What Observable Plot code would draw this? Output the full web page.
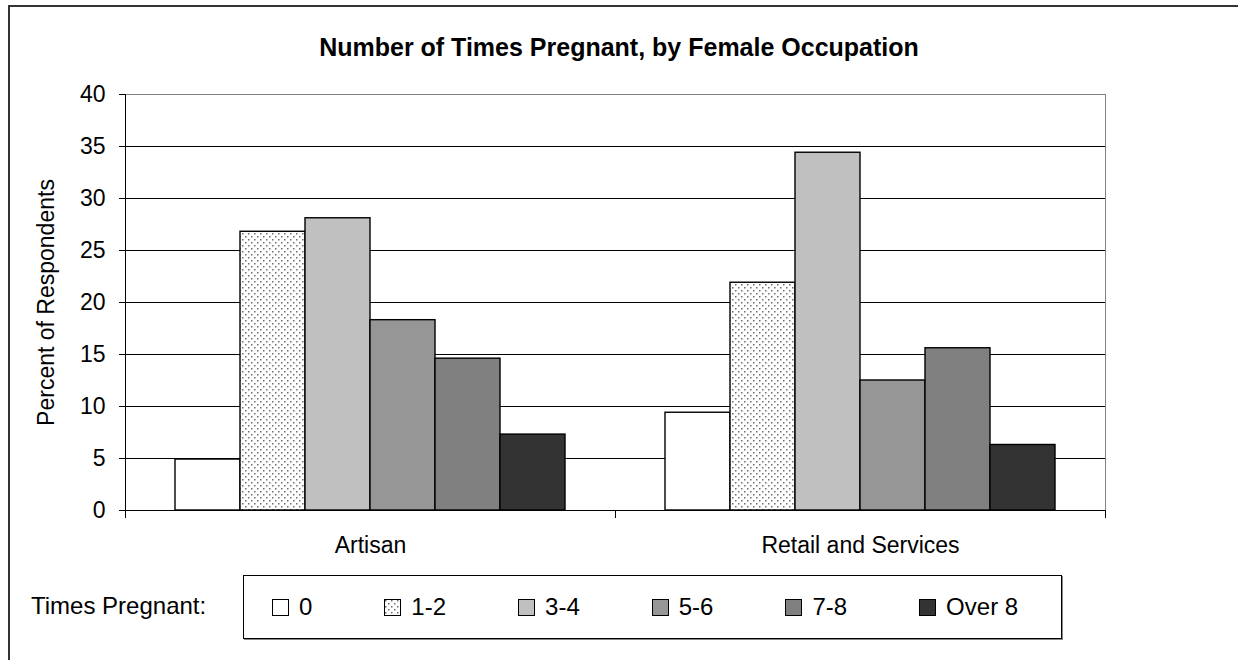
<!DOCTYPE html>
<html>
<head>
<meta charset="utf-8">
<script src="https://cdn.jsdelivr.net/npm/d3@7"></script>
<script src="https://cdn.jsdelivr.net/npm/@observablehq/plot@0.6"></script>
<style>
  body { margin: 0; background: #fff; font-family: "Liberation Sans", Arial, sans-serif; color: #000; }
  #page { position: relative; width: 1238px; height: 660px; overflow: hidden; background: #fff; }
  #border { position: absolute; left: 8px; top: 5px; width: 1300px; height: 700px; border-left: 2px solid #333; border-top: 2px solid #333; }
  #title { position: absolute; left: 0; top: 32px; width: 1238px; text-align: center; font-weight: bold; font-size: 25px; line-height: 30px; }
  #chart { position: absolute; left: 0; top: 70px; }
  #legendLabel { position: absolute; left: 31px; top: 592px; font-size: 24px; line-height: 28px; }
  #legend { position: absolute; left: 243px; top: 575px; width: 819px; height: 64px; box-sizing: border-box; border: 1px solid #000; box-shadow: 1px 1px 0 #888; display: flex; align-items: center; padding-left: 28px; font-size: 24px; }
  .item { display: flex; align-items: center; margin-right: 72px; white-space: nowrap; }
  .item svg { margin-right: 10px; display: block; }
</style>
</head>
<body>
<svg width="0" height="0" style="position:absolute">
  <defs>
    <pattern id="dots" width="6" height="6" patternUnits="userSpaceOnUse">
      <rect width="6" height="6" fill="#fff"></rect>
      <rect x="1" y="1" width="1.5" height="1.5" fill="#6e6e6e"></rect>
      <rect x="4" y="4" width="1.5" height="1.5" fill="#6e6e6e"></rect>
    </pattern>
  </defs>
</svg>
<div id="page">
  <div id="border"></div>
  <div id="title">Number of Times Pregnant, by Female Occupation</div>
  <div id="chart"></div>
  <div id="legendLabel">Times Pregnant:</div>
  <div id="legend"></div>
</div>
<script>
const occupations = ["Artisan", "Retail and Services"];
const timesPregnant = ["0", "1-2", "3-4", "5-6", "7-8", "Over 8"];
const artisanPct = [4.9, 26.8, 28.1, 18.3, 14.6, 7.3];
const retailPct = [9.4, 21.9, 34.4, 12.5, 15.6, 6.3];
const yTicks = [0, 5, 10, 15, 20, 25, 30, 35, 40];
const seriesFills = ["#ffffff", "url(#dots)", "#c0c0c0", "#969696", "#808080", "#333333"];

const gridTicks = yTicks.filter(d => d > 0 && d < 40);
const rows = [
  ...timesPregnant.map((t, i) => ({occupation: occupations[0], times: t, pct: artisanPct[i]})),
  ...timesPregnant.map((t, i) => ({occupation: occupations[1], times: t, pct: retailPct[i]}))
];

// small category separator ticks under the x axis, at each facet edge
const separatorTicks = (index, scales, values, dims) => {
  const g = d3.create("svg:g");
  const y0 = dims.height - dims.marginBottom;
  for (const x of [dims.marginLeft, dims.width - dims.marginRight]) {
    g.append("line")
      .attr("x1", Math.round(x) + 0.5).attr("x2", Math.round(x) + 0.5)
      .attr("y1", y0).attr("y2", y0 + 8)
      .attr("stroke", "#000");
  }
  return g.node();
};

const chart = Plot.plot({
  width: 1238,
  height: 490,
  marginLeft: 124,
  marginRight: 133,
  marginTop: 24,
  marginBottom: 50,
  style: {fontFamily: '"Liberation Sans", Arial, sans-serif', fontSize: "23px", color: "#000", background: "transparent", overflow: "visible"},
  fx: {domain: occupations, padding: 0, label: null},
  x: {domain: timesPregnant, paddingInner: 0, paddingOuter: 0.733, axis: null},
  y: {domain: [0, 40], label: "Percent of Respondents"},
  color: {domain: timesPregnant, range: seriesFills},
  marks: [
    Plot.frame({facet: "super", stroke: "#808080"}),
    Plot.ruleY(gridTicks, {stroke: "#000"}),
    Plot.barY(rows, {fx: "occupation", x: "times", y: "pct", fill: "times", stroke: "#000", strokeWidth: 1.4, inset: 0}),
    Plot.ruleY([0], {stroke: "#000"}),
    Plot.frame({facet: "super", anchor: "left", stroke: "#000"}),
    Plot.axisY({ticks: yTicks, tickSize: 6, tickPadding: 14, label: "Percent of Respondents", labelAnchor: "center", labelArrow: "none", labelOffset: 88}),
    Plot.axisFx({anchor: "bottom", tickSize: 0, tickPadding: 26, label: null}),
    separatorTicks
  ]
});
document.getElementById("chart").appendChild(chart);

const legend = d3.select("#legend");
timesPregnant.forEach((t, i) => {
  const item = legend.append("div").attr("class", "item");
  const s = item.append("svg").attr("width", 17).attr("height", 17);
  s.append("rect").attr("x", 0.5).attr("y", 0.5).attr("width", 16).attr("height", 16)
    .attr("fill", seriesFills[i]).attr("stroke", "#000");
  item.append("span").text(t);
});
</script>
</body>
</html>
